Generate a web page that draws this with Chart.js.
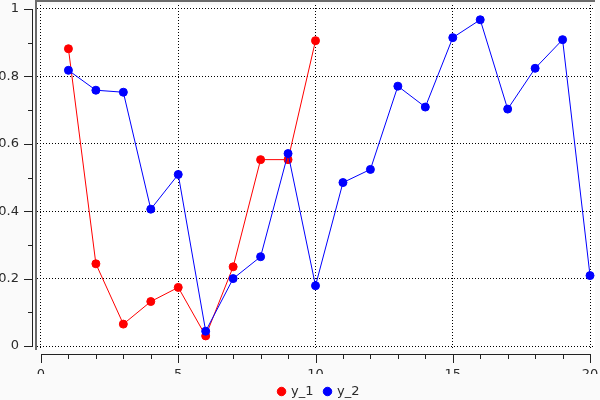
<!DOCTYPE html>
<html><head><meta charset="utf-8">
<script src="https://cdn.jsdelivr.net/npm/chart.js@4.4.1/dist/chart.umd.min.js"></script>
<style>html,body{margin:0;padding:0;background:#fafafa;}canvas{display:block;}</style>
</head><body>
<canvas id="c" width="600" height="400"></canvas>
<script>
const seriesNames = ['y_1', 'y_2'];
const x1Values = [1, 2, 3, 4, 5, 6, 7, 8, 9, 10];
const y1Values = [0.882, 0.244, 0.065, 0.132, 0.174, 0.030, 0.235, 0.553, 0.553, 0.906];
const x2Values = [1, 2, 3, 4, 5, 6, 7, 8, 9, 10, 11, 12, 13, 14, 15, 16, 17, 18, 19, 20];
const y2Values = [0.818, 0.759, 0.753, 0.406, 0.509, 0.044, 0.200, 0.265, 0.571, 0.179,
                  0.485, 0.524, 0.771, 0.709, 0.915, 0.968, 0.703, 0.824, 0.909, 0.209];
const xTicks = [0, 5, 10, 15, 20];
const xTickLabels = ['0', '5', '10', '15', '20'];
const xMinorTicks = [1, 2, 3, 4, 6, 7, 8, 9, 11, 12, 13, 14, 16, 17, 18, 19];
const yTicks = [0, 0.2, 0.4, 0.6, 0.8, 1];
const yTickLabels = ['0', '0.2', '0.4', '0.6', '0.8', '1'];
const yMinorTicks = [0.1, 0.3, 0.5, 0.7, 0.9];

const FONT = {family: 'DejaVu Sans', size: 13};
const TEXT = '#2a2a2a';
const LEGEND_H = 26;

function noPad(s) { s.paddingLeft = 0; s.paddingRight = 0; s.paddingTop = 0; s.paddingBottom = 0; }

const framePlugin = {
  id: 'frame',
  beforeLayout(chart) {
    const lg = chart.legend;
    if (lg && !lg._fixedFit) {
      const orig = lg.fit;
      lg.fit = function () { orig.call(this); this.height = LEGEND_H; };
      lg._fixedFit = true;
    }
  },
  afterLayout(chart) {
    const lg = chart.legend, a = chart.chartArea;
    if (lg) { lg.left = a.left + 3; lg.right = a.right + 3; }
  },
  beforeDraw(chart) {
    const ctx = chart.ctx, a = chart.chartArea;
    ctx.save();
    ctx.fillStyle = '#fafafa';
    ctx.fillRect(0, 0, chart.width, chart.height);
    ctx.fillStyle = '#ffffff';
    ctx.fillRect(a.left, a.top, a.right - a.left, a.bottom - a.top);
    ctx.restore();
  },
  afterDraw(chart) {
    const ctx = chart.ctx, a = chart.chartArea;
    const xs = chart.scales.x, ys = chart.scales.y;
    ctx.save();
    // grey frame (top and left)
    ctx.fillStyle = '#6b6b6b';
    ctx.fillRect(a.left - 2, 0, a.right - a.left + 2, 2);
    ctx.fillRect(a.left - 2, 0, 2, a.bottom);
    // y axis
    ctx.strokeStyle = '#222';
    ctx.lineWidth = 1;
    const ax = a.left - 4.5;
    const yTop = Math.round(ys.getPixelForValue(yTicks[yTicks.length - 1]));
    const yBot = Math.round(ys.getPixelForValue(yTicks[0]));
    ctx.beginPath();
    ctx.moveTo(ax, yTop); ctx.lineTo(ax, yBot + 1);
    yTicks.forEach(v => { const p = Math.round(ys.getPixelForValue(v)) + 0.5; ctx.moveTo(ax + 0.5, p); ctx.lineTo(ax - 8.5, p); });
    yMinorTicks.forEach(v => { const p = Math.round(ys.getPixelForValue(v)) + 0.5; ctx.moveTo(ax + 0.5, p); ctx.lineTo(ax - 4.5, p); });
    ctx.stroke();
    // x axis
    const ay = a.bottom + 4.5;
    const xL = Math.round(xs.getPixelForValue(xTicks[0]));
    const xR = Math.round(xs.getPixelForValue(xTicks[xTicks.length - 1]));
    ctx.beginPath();
    ctx.moveTo(xL, ay); ctx.lineTo(xR + 1, ay);
    xTicks.forEach(v => { const p = Math.round(xs.getPixelForValue(v)) + 0.5; ctx.moveTo(p, ay - 0.5); ctx.lineTo(p, ay + 8.5); });
    xMinorTicks.forEach(v => { const p = Math.round(xs.getPixelForValue(v)) + 0.5; ctx.moveTo(p, ay - 0.5); ctx.lineTo(p, ay + 4.5); });
    ctx.stroke();
    ctx.restore();
  }
};

function pts(xs, ys) { return xs.map((x, i) => ({x: x, y: ys[i]})); }

new Chart(document.getElementById('c'), {
  type: 'line',
  data: {
    datasets: [
      {label: seriesNames[0], data: pts(x1Values, y1Values), borderColor: '#ff0000', backgroundColor: '#ff0000',
       pointBackgroundColor: '#ff0000', pointBorderColor: '#ff0000', borderWidth: 1, pointRadius: 4, pointBorderWidth: 1,
       tension: 0, fill: false, order: 1},
      {label: seriesNames[1], data: pts(x2Values, y2Values), borderColor: '#0000ff', backgroundColor: '#0000ff',
       pointBackgroundColor: '#0000ff', pointBorderColor: '#0000ff', borderWidth: 1, pointRadius: 4, pointBorderWidth: 1,
       tension: 0, fill: false, order: 0}
    ]
  },
  options: {
    responsive: false,
    animation: false,
    devicePixelRatio: 1,
    layout: {padding: {left: 0, right: 2, top: 2, bottom: 0}},
    plugins: {
      tooltip: {enabled: false},
      legend: {
        position: 'bottom',
        labels: {
          usePointStyle: true, pointStyle: 'circle', boxWidth: 6, boxHeight: 6,
          padding: 11, font: FONT, color: TEXT,
          sort: (a, b) => a.datasetIndex - b.datasetIndex
        }
      }
    },
    scales: {
      x: {
        type: 'linear', min: -0.145, max: 20.181,
        afterBuildTicks: s => { s.ticks = xTicks.map(v => ({value: v})); },
        afterFit: s => { s.height = 400 - 350 - LEGEND_H; noPad(s); },
        ticks: {callback: (v, i) => xTickLabels[i], font: FONT, color: TEXT, padding: 17, maxRotation: 0},
        grid: {color: '#000', lineWidth: 1, drawTicks: false},
        border: {display: false, dash: [1, 2]}
      },
      y: {
        type: 'linear', min: -0.0118, max: 1.0118,
        afterBuildTicks: s => { s.ticks = yTicks.map(v => ({value: v})); },
        afterFit: s => { s.width = 37; noPad(s); },
        ticks: {callback: (v, i) => yTickLabels[i], font: FONT, color: TEXT, padding: 18},
        grid: {color: '#000', lineWidth: 1, drawTicks: false},
        border: {display: false, dash: [1, 2]}
      }
    }
  },
  plugins: [framePlugin]
});
</script>
</body></html>
